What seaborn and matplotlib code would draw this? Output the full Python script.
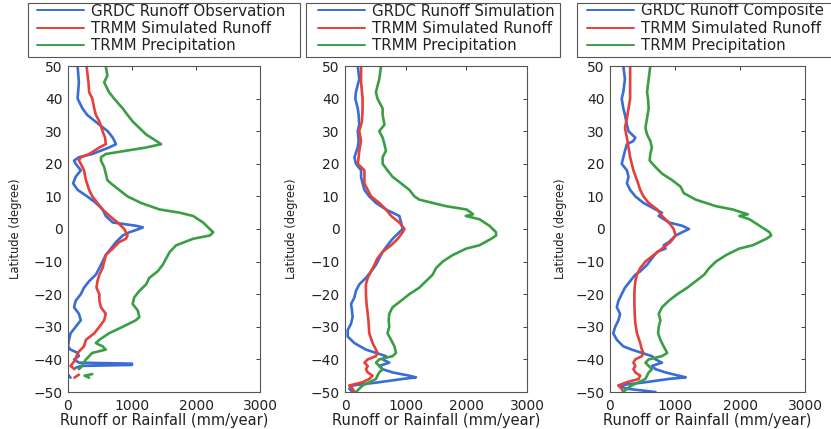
import matplotlib
matplotlib.use("Agg")
import matplotlib.pyplot as plt
from matplotlib.patches import Rectangle
import seaborn as sns

# ---- data (runoff / rainfall in mm/year vs latitude) ----
# panel 1: observation
obs_lat = [50, 45, 40, 37, 35, 32, 30, 28, 26, 25, 23, 22, 21, 20, 18, 16, 14, 12, 10, 8, 6, 4, 2, 1, 0.5, 0,
           -1, -2, -4, -6, -8, -10, -12, -14, -16, -18, -20, -22, -24, -26, -28, -30, -32, -34, -36, -37, -38,
           -39, -40, -41, -41.3, -41.7, -42, -42.6]
obs_runoff = [150, 170, 150, 225, 300, 490, 620, 700, 750, 640, 380, 170, 95, 120, 200, 120, 80, 150, 300, 435,
              540, 590, 700, 1060, 1170, 1110, 960, 855, 750, 670, 590, 540, 490, 435, 330, 250, 200, 120, 95, 170,
              200, 120, 40, 15, 0, 40, 150, 170, 95, 170, 1000, 1000, 200, 120]
p1_trmm_lat = [50, 45, 42, 40, 37, 35, 33, 30, 28, 26, 25, 23, 22, 21, 20, 18, 15, 12, 10, 8, 6, 4, 2, 0, -2, -3,
               -4, -6, -8, -10, -12, -14, -16, -18, -20, -22, -24, -26, -28, -30, -32, -34, -36, -38, -40, -42, -43]
p1_trmm_runoff = [290, 320, 330, 380, 410, 435, 490, 540, 580, 590, 490, 330, 200, 170, 200, 250, 280, 330, 380,
                  460, 540, 650, 775, 880, 930, 905, 800, 700, 590, 565, 540, 490, 460, 445, 490, 490, 515, 590,
                  565, 490, 410, 280, 250, 150, 120, 40, 100]
p1_precip_lat = [50, 47, 45, 42, 40, 37, 35, 33, 31, 29, 27, 26, 25, 24, 23, 22, 21, 19, 17, 15, 14, 12, 10, 8, 6,
                 5, 4, 2, 0, -1, -2, -3, -5, -7, -9, -11, -13, -15, -17, -19, -21, -23, -25, -27, -28, -30, -32,
                 -34, -35, -36, -37, -38, -39, -40, -41, -42, -43]
p1_precip = [590, 615, 565, 640, 720, 855, 930, 1010, 1115, 1220, 1380, 1455, 1220, 905, 590, 515, 515, 565, 590,
             615, 670, 800, 930, 1140, 1430, 1745, 1955, 2110, 2215, 2270, 2215, 1955, 1690, 1590, 1535, 1480, 1400,
             1270, 1220, 1115, 1035, 1010, 1090, 1115, 1060, 855, 640, 490, 435, 540, 590, 380, 330, 280, 250, 225,
             170]
# broken bits near -45 in panel 1
p1_frag_lat = [-44.7, -45.6]
p1_frag_obs = [0, 40]
p1_frag_trmm = [170, 100]
p1_frag_precip_lat = [-44.5, -45.0, -45.6]
p1_frag_precip = [380, 260, 330]

# panel 2: simulation
sim_lat = [50, 46, 42, 40, 37, 35, 32, 30, 27, 25, 22, 20, 18, 16, 14, 12, 10, 8, 6, 5, 4, 2, 0, -1, -3, -5, -7,
           -9, -11, -13, -15, -17, -19, -21, -23, -25, -27, -29, -31, -33, -35, -37, -38, -39, -40, -41, -42, -43,
           -44, -45, -45.5, -46, -47, -48, -49, -50]
sim_runoff = [210, 235, 180, 170, 210, 225, 235, 210, 225, 210, 155, 180, 265, 265, 290, 320, 400, 510, 675, 785,
              895, 925, 950, 895, 785, 700, 620, 565, 510, 430, 345, 235, 180, 155, 100, 115, 125, 100, 45, 45, 155,
              345, 510, 675, 620, 730, 565, 620, 785, 1060, 1170, 950, 565, 125, 70, 125]
p2_trmm_lat = [50, 45, 40, 37, 33, 30, 27, 24, 22, 20, 18, 16, 14, 12, 10, 8, 6, 4, 2, 0, -1, -3, -5, -7, -9, -11,
               -13, -15, -17, -20, -23, -26, -29, -32, -35, -37, -38, -39, -40, -41, -42, -43, -44, -45, -46, -47,
               -48, -49, -50]
p2_trmm_runoff = [265, 265, 290, 290, 280, 235, 265, 235, 225, 210, 320, 320, 320, 375, 430, 565, 675, 760, 895,
                  980, 950, 870, 760, 620, 535, 485, 430, 375, 345, 345, 355, 375, 390, 400, 455, 510, 535, 510, 375,
                  320, 375, 345, 375, 455, 400, 290, 70, 125, 155]
p2_precip_lat = [50, 46, 42, 40, 37, 35, 32, 30, 28, 26, 24, 22, 20, 18, 16, 14, 12, 10, 9, 8, 7, 6, 5, 4.5, 4, 3,
                 1, -1, -2, -3, -5, -6, -8, -10, -12, -14, -16, -18, -20, -22, -24, -26, -28, -30, -32, -34, -36,
                 -38, -39, -40, -41, -42, -43, -44, -45, -46, -47, -48, -49, -50]
p2_precip = [595, 565, 510, 535, 620, 620, 650, 565, 620, 650, 675, 620, 620, 700, 785, 925, 1060, 1145, 1225,
             1445, 1665, 2000, 2080, 2110, 1990, 2215, 2380, 2490, 2490, 2410, 2215, 2000, 1775, 1610, 1500, 1445,
             1335, 1225, 1060, 925, 785, 730, 720, 730, 700, 760, 815, 840, 785, 565, 510, 565, 620, 565, 535, 510,
             400, 290, 235, 180]

# panel 3: composite
comp_lat = [50, 46, 42, 40, 37, 35, 32, 30, 28, 27, 26, 24, 22, 20, 18, 16, 14, 12, 10, 8, 6, 5, 4, 2, 1, 0, -1,
            -2, -4, -5, -6, -7, -9, -11, -13, -14, -16, -18, -20, -22, -24, -26, -28, -30, -32, -34, -36, -37, -38,
            -39, -40, -41, -42, -43, -44, -45, -45.5, -46, -47, -48, -49, -50]
comp_runoff = [205, 230, 205, 180, 205, 230, 260, 285, 390, 360, 260, 230, 205, 180, 260, 285, 260, 310, 390, 515,
               700, 800, 750, 905, 1110, 1215, 1110, 1010, 905, 825, 855, 725, 645, 570, 465, 390, 310, 230, 180,
               130, 105, 155, 130, 80, 50, 105, 205, 335, 490, 645, 700, 800, 645, 700, 855, 1060, 1165, 905, 545,
               130, 260, 700]
p3_trmm_lat = [50, 45, 40, 37, 34, 31, 28, 25, 22, 20, 18, 15, 12, 10, 8, 6, 4, 2, 0, -2, -4, -6, -8, -10, -12,
               -14, -16, -18, -20, -23, -26, -29, -32, -35, -37, -38, -39, -40, -41, -42, -43, -44, -45, -46, -47,
               -48, -49, -50]
p3_trmm_runoff = [310, 310, 310, 285, 260, 230, 260, 285, 310, 335, 360, 415, 465, 515, 595, 725, 800, 905, 980,
                  1010, 930, 800, 670, 545, 465, 415, 390, 380, 375, 375, 380, 390, 415, 465, 490, 515, 490, 390,
                  360, 390, 360, 390, 465, 440, 260, 130, 180, 205]
p3_precip_lat = [50, 46, 42, 40, 37, 34, 31, 29, 27, 25, 23, 21, 19, 17, 15, 13, 11, 9, 7, 6, 5, 4.5, 4, 3, 1, -1,
                 -2, -3, -5, -6, -8, -10, -12, -14, -16, -18, -20, -22, -24, -26, -28, -30, -32, -34, -36, -38, -39,
                 -40, -41, -42, -43, -44, -45, -46, -47, -48, -49, -50]
p3_precip = [620, 595, 570, 585, 595, 570, 545, 570, 620, 645, 620, 610, 700, 800, 955, 1085, 1135, 1320, 1630,
             1885, 2040, 2120, 1990, 2145, 2300, 2455, 2480, 2405, 2195, 1990, 1785, 1630, 1525, 1450, 1320, 1190,
             1035, 905, 800, 750, 775, 750, 740, 775, 825, 880, 800, 595, 545, 595, 645, 595, 570, 545, 440, 335,
             260, 205]

first_labels = ["GRDC Runoff Observation", "GRDC Runoff Simulation", "GRDC Runoff Composite"]
trmm_label = "TRMM Simulated Runoff"
precip_label = "TRMM Precipitation"

BLUE, RED, GREEN = "#3a6cd6", "#e4413a", "#3a9f44"
TXT = "#222222"

sns.set_theme(style="white")
plt.rcParams["font.family"] = ["DejaVu Sans"]

W, H = 831, 429
fig = plt.figure(figsize=(W / 100, H / 100), dpi=100)

# axes boxes in pixels: (left, right), shared top/bottom
boxes = [(68, 260), (345, 527), (610, 805)]
top, bottom = 66, 392
legend_frames = [(28, 300), (306, 560), (577, 845)]
legend_handle_x = [37, 318, 587]
ylabel_x = [22, 298, 567]

panels = [
    ([(obs_lat, obs_runoff), (p1_frag_lat, p1_frag_obs)],
     [(p1_trmm_lat, p1_trmm_runoff), (p1_frag_lat, p1_frag_trmm)],
     [(p1_precip_lat, p1_precip), (p1_frag_precip_lat, p1_frag_precip)]),
    ([(sim_lat, sim_runoff)], [(p2_trmm_lat, p2_trmm_runoff)], [(p2_precip_lat, p2_precip)]),
    ([(comp_lat, comp_runoff)], [(p3_trmm_lat, p3_trmm_runoff)], [(p3_precip_lat, p3_precip)]),
]

for i, (l, r) in enumerate(boxes):
    ax = fig.add_axes([l / W, 1 - bottom / H, (r - l) / W, (bottom - top) / H])
    series = panels[i]
    for parts, color, label in zip(series, [BLUE, RED, GREEN], [first_labels[i], trmm_label, precip_label]):
        for k, (lat, val) in enumerate(parts):
            sns.lineplot(x=val, y=lat, sort=False, estimator=None, color=color, linewidth=1.9,
                         label=label if k == 0 else None, ax=ax, legend=False)

    ax.set_xlim(0, 3000)
    ax.set_ylim(-50, 50)
    ax.set_xticks([0, 1000, 2000, 3000])
    ax.set_yticks(range(-50, 51, 10))
    ax.tick_params(direction="in", top=True, right=True, length=3, width=0.6, labelsize=10,
                   pad=5, colors=TXT)
    ax.tick_params(axis="y", pad=4)
    for sp in ax.spines.values():
        sp.set_color("#555555")
        sp.set_linewidth(0.8)
    ax.set_xlabel("Runoff or Rainfall (mm/year)", fontsize=10.5, color=TXT)
    ax.set_ylabel("Latitude (degree)", fontsize=8.3, color=TXT)
    ax.xaxis.set_label_coords(0.5, -(413 - bottom) / (bottom - top))
    ax.yaxis.set_label_coords((ylabel_x[i] - l) / (r - l), 0.5)

    # legend above each panel, frame drawn separately
    fx0, fx1 = legend_frames[i]
    fig.patches.append(Rectangle((fx0 / W, 1 - 57 / H), (fx1 - fx0) / W, 54 / H,
                                 transform=fig.transFigure, fill=False, edgecolor="#555555",
                                 linewidth=0.8, zorder=5))
    handles, labels = ax.get_legend_handles_labels()
    leg = ax.legend(handles, labels, loc="upper left",
                    bbox_to_anchor=(legend_handle_x[i] / W, 1 - 3.5 / H),
                    bbox_transform=fig.transFigure, borderaxespad=0, borderpad=0,
                    fontsize=10.8, handlelength=3.15, handletextpad=0.45, labelspacing=0.16,
                    frameon=False)
    for line in leg.get_lines():
        line.set_linewidth(1.4)
    for t in leg.get_texts():
        t.set_color(TXT)

fig.savefig("out.png", dpi=100)
